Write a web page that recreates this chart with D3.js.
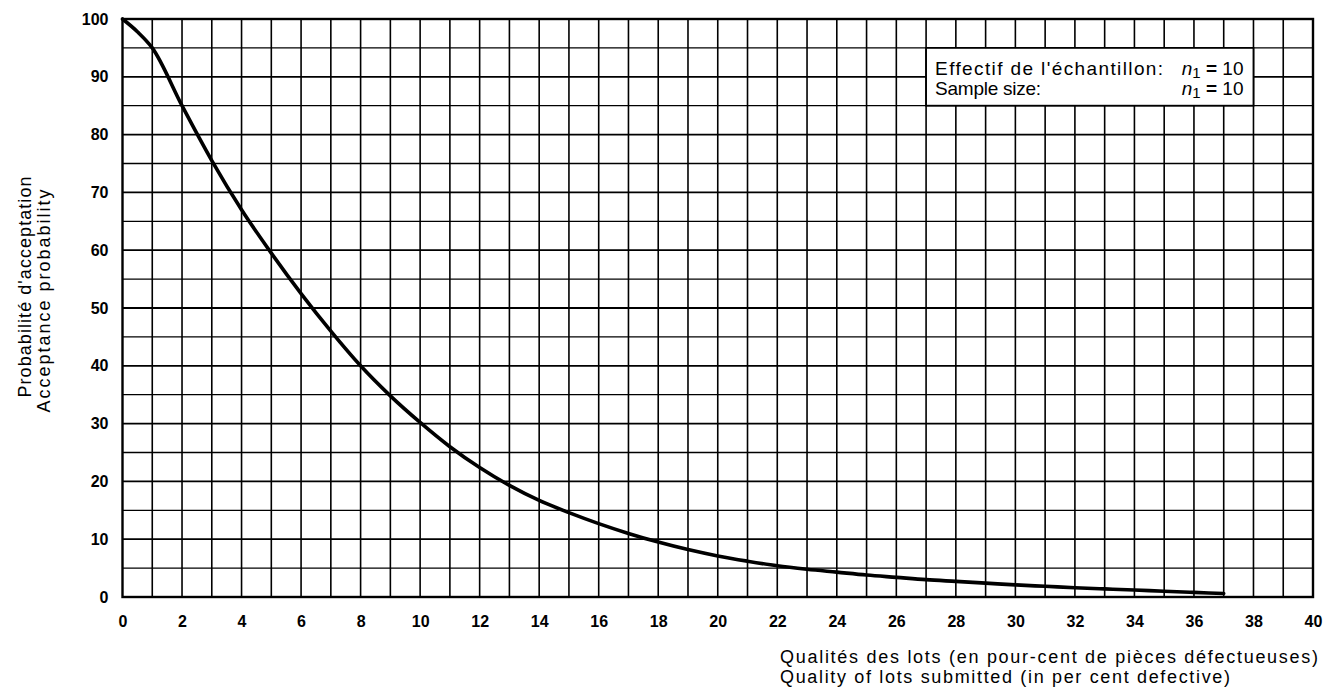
<!DOCTYPE html>
<html>
<head>
<meta charset="utf-8">
<script src="https://cdn.jsdelivr.net/npm/d3@7"></script>
<style>
  body { margin: 0; background: #fff; }
  svg { display: block; font-family: "Liberation Sans", Arial, sans-serif; }
  .tick text { font-weight: bold; font-size: 16px; fill: #000; }
</style>
</head>
<body>
<div id="chart"></div>
<script>
// percent defective (x) and acceptance probability (y)
var pctDefective = [0, 0.5, 1, 2, 3, 4, 5, 6, 7, 8, 9, 10, 11, 12, 13, 14, 15, 16, 17, 18, 19,
                    20, 21, 22, 23, 24, 25, 26, 27, 28, 29, 30, 31, 32, 33, 34, 35, 36, 37];
var acceptProb = [100, 97.8, 95, 85, 75.5, 67, 59.5, 52.5, 46, 40, 34.8, 30.2, 26, 22.4, 19.3, 16.7, 14.6,
                  12.7, 11, 9.5, 8.2, 7.1, 6.2, 5.4, 4.8, 4.3, 3.8, 3.4, 3.0, 2.7, 2.4, 2.1,
                  1.85, 1.6, 1.4, 1.2, 1.0, 0.8, 0.6];
var xTickLabels = [0, 2, 4, 6, 8, 10, 12, 14, 16, 18, 20, 22, 24, 26, 28, 30, 32, 34, 36, 38, 40];
var yTickLabels = [0, 10, 20, 30, 40, 50, 60, 70, 80, 90, 100];
var yTitle = ["Probabilité d'acceptation", "Acceptance probability"];
var xTitle = ["Qualités des lots (en pour-cent de pièces défectueuses)",
              "Quality of lots submitted (in per cent defective)"];
var legendLines = ["Effectif de l'échantillon:", "Sample size:"];
var sampleSize = 10;

var W = 1332, H = 694;
var margin = {top: 19, right: 19, bottom: 97, left: 122.5};
var width = W - margin.left - margin.right,
    height = H - margin.top - margin.bottom;

var svg = d3.select("#chart").append("svg")
    .attr("width", W)
    .attr("height", H);

var g = svg.append("g")
    .attr("transform", "translate(" + margin.left + "," + margin.top + ")");

var x = d3.scaleLinear().domain([0, 40]).range([0, width]);
var y = d3.scaleLinear().domain([0, 100]).range([height, 0]);

// grid
g.append("g").selectAll("line")
    .data(d3.range(1, 40))
  .enter().append("line")
    .attr("x1", function(d) { return x(d); })
    .attr("x2", function(d) { return x(d); })
    .attr("y1", 0).attr("y2", height)
    .attr("stroke", "#000").attr("stroke-width", 1.6);

g.append("g").selectAll("line")
    .data(d3.range(5, 100, 5))
  .enter().append("line")
    .attr("y1", function(d) { return y(d); })
    .attr("y2", function(d) { return y(d); })
    .attr("x1", 0).attr("x2", width)
    .attr("stroke", "#000")
    .attr("stroke-width", function(d) { return d % 10 === 0 ? 1.8 : 1.3; });

// frame
g.append("rect")
    .attr("width", width).attr("height", height)
    .attr("fill", "none").attr("stroke", "#000").attr("stroke-width", 2.4);

// axes (labels only)
var xAxis = g.append("g")
    .attr("transform", "translate(0," + height + ")")
    .call(d3.axisBottom(x).tickValues(xTickLabels).tickSize(0).tickPadding(19));
xAxis.select(".domain").remove();

var yAxis = g.append("g")
    .call(d3.axisLeft(y).tickValues(yTickLabels).tickSize(0).tickPadding(14));
yAxis.select(".domain").remove();

// curve
var line = d3.line()
    .x(function(d) { return x(d[0]); })
    .y(function(d) { return y(d[1]); })
    .curve(d3.curveMonotoneX);

g.append("path")
    .datum(d3.zip(pctDefective, acceptProb))
    .attr("fill", "none")
    .attr("stroke", "#000")
    .attr("stroke-width", 3.6)
    .attr("stroke-linecap", "round")
    .attr("d", line);

// legend box
var lx0 = x(27), lx1 = x(38), ly0 = y(95), ly1 = y(85);
g.append("rect")
    .attr("x", lx0).attr("y", ly0)
    .attr("width", lx1 - lx0).attr("height", ly1 - ly0)
    .attr("fill", "#fff").attr("stroke", "#000").attr("stroke-width", 1.8);

var legendLen = [228, 106];
legendLines.forEach(function(t, i) {
  var by = ly0 + 27 + i * 20;
  g.append("text")
      .attr("x", lx0 + 9).attr("y", by)
      .attr("font-size", 19)
      .attr("textLength", legendLen[i])
      .attr("lengthAdjust", "spacing")
      .text(t);
  var n = g.append("text")
      .attr("x", lx1 - 10).attr("y", by)
      .attr("font-size", 19)
      .attr("text-anchor", "end");
  n.append("tspan").attr("font-style", "italic").text("n");
  n.append("tspan").attr("font-size", 15).attr("dy", 3).text("1");
  n.append("tspan").attr("dy", -3).attr("font-weight", "bold").text(" = ");
  n.append("tspan").text(sampleSize);
});

// axis titles
var yTitleLen = [221, 223], yTitleMid = [287, 301], yTitleX = [31, 50];
yTitle.forEach(function(t, i) {
  svg.append("text")
      .attr("transform", "translate(" + yTitleX[i] + "," + yTitleMid[i] + ") rotate(-90)")
      .attr("text-anchor", "middle")
      .attr("font-size", 18)
      .attr("textLength", yTitleLen[i])
      .attr("lengthAdjust", "spacing")
      .text(t);
});

var xTitleLen = [538, 450];
xTitle.forEach(function(t, i) {
  svg.append("text")
      .attr("x", 780).attr("y", 663 + i * 20)
      .attr("font-size", 18)
      .attr("textLength", xTitleLen[i])
      .attr("lengthAdjust", "spacing")
      .text(t);
});
</script>
</body>
</html>
